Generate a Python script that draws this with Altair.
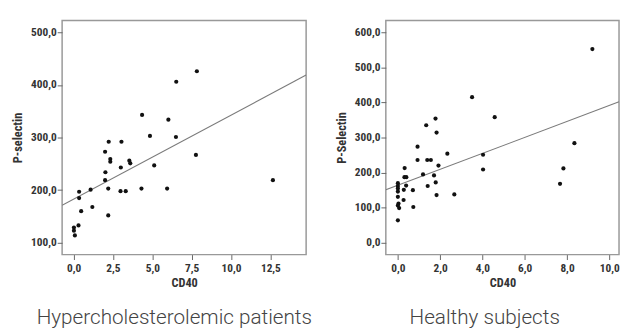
import altair as alt
import pandas as pd

# Left panel: Hypercholesterolemic patients
left_x = [7.83, 6.52, 4.35, 6.02, 4.85, 6.5, 2.23, 3.04, 2.0, 7.77, 2.33, 2.33, 3.54, 3.6,
          3.0, 5.12, 2.02, 2.0, 12.66, 2.2, 4.31, 5.94, 1.08, 0.35, 2.98, 3.31, 0.35, 0.48,
          1.19, 2.2, 0.31, 0.02, 0.02, 0.08]
left_y = [426, 406, 343, 334, 303, 301, 292, 292, 273, 267, 259, 254, 256, 251,
          243, 247, 234, 219, 219, 203, 203, 203, 201, 197, 198, 198, 185, 160,
          168, 152, 133, 129, 123, 114]
left_fit_x = [-0.73, 14.77]
left_fit_y = [171.3, 418.8]
left_xticks = [0, 2.5, 5, 7.5, 10, 12.5]
left_yticks = [100, 200, 300, 400, 500]

# Right panel: Healthy subjects
right_x = [9.2, 3.51, 4.58, 1.78, 1.34, 1.83, 8.35, 0.93, 2.34, 4.03, 0.93, 1.39, 1.56, 1.92,
           4.03, 7.83, 0.32, 0.31, 0.40, 1.19, 1.71, 0.0, 0.0, 0.39, 1.79, 1.41, 0.0, 0.71,
           0.28, 0.0, 0.0, 0.27, 1.83, 2.67, 7.67, 0.03, 0.0, 0.06, 0.73, 0.0]
right_y = [552, 415, 358, 354, 335, 314, 284, 274, 254, 251, 236, 236, 236, 220,
           209, 212, 213, 187, 187, 195, 192, 170, 162, 163, 172, 162, 155, 150,
           151, 146, 131, 122, 136, 138, 168, 112, 106, 99, 102, 64]
right_fit_x = [-0.57, 10.46]
right_fit_y = [151, 401.7]
right_xticks = [0, 2, 4, 6, 8, 10]
right_yticks = [0, 100, 200, 300, 400, 500, 600]

FONT = "Liberation Sans Narrow, Arial Narrow, Roboto Condensed, Archivo Narrow, sans-serif"
LABEL_EXPR = "replace(format(datum.value, '.1f'), '.', ',')"


def panel(xs, ys, fx, fy, xticks, yticks, xdom, ydom, ytitle, caption, w, dx):
    pts = pd.DataFrame({"x": xs, "y": ys})
    fit = pd.DataFrame({"x": fx, "y": fy})
    xsc = alt.Scale(domain=xdom, nice=False, zero=False)
    ysc = alt.Scale(domain=ydom, nice=False, zero=False)
    xax = alt.Axis(values=xticks, labelExpr=LABEL_EXPR, title="CD40", labelOverlap=False)
    yax = alt.Axis(values=yticks, labelExpr=LABEL_EXPR, title=ytitle, labelOverlap=False)
    p = alt.Chart(pts).mark_circle(size=18, color="#111111", opacity=1).encode(
        x=alt.X("x:Q", scale=xsc, axis=xax),
        y=alt.Y("y:Q", scale=ysc, axis=yax),
    )
    l = alt.Chart(fit).mark_line(color="#7a7a7a", strokeWidth=1.1, clip=True).encode(
        x=alt.X("x:Q", scale=xsc, axis=xax),
        y=alt.Y("y:Q", scale=ysc, axis=yax),
    )
    return alt.layer(l, p).properties(
        width=w, height=238,
        title=alt.TitleParams(caption, orient="bottom", anchor="middle", frame="group",
                              dx=dx, offset=36, baseline="alphabetic",
                              font="Roboto", fontSize=21, fontWeight=300, color="#444444"),
    )


left = panel(left_x, left_y, left_fit_x, left_fit_y, left_xticks, left_yticks,
             [-0.73, 14.77], [77.5, 522.5], "P-selectin", "Hypercholesterolemic patients", 248, -10)
right = panel(right_x, right_y, right_fit_x, right_fit_y, right_xticks, right_yticks,
              [-0.57, 10.46], [-33.6, 633.6], "P-Selectin", "Healthy subjects", 237, -18)

chart = alt.hconcat(left, right, spacing=81, bounds="flush").properties(
    padding={"left": 3, "top": 9, "right": 0, "bottom": 0}
).configure_view(
    stroke="#999999", strokeWidth=1.5
).configure_axis(
    domain=False, grid=False, tickColor="#666666", tickSize=5, labelOverlap=False,
    labelFont=FONT, labelFontSize=11.5, labelFontWeight="bold", labelColor="#333333",
    titleFont=FONT, titleFontSize=12.5, titleFontWeight="bold", titleColor="#333333",
).configure_axisY(titlePadding=6, labelPadding=1).configure_axisX(titlePadding=3, labelPadding=3)

chart.save("out.html", embed_options={"renderer": "svg", "actions": False})
